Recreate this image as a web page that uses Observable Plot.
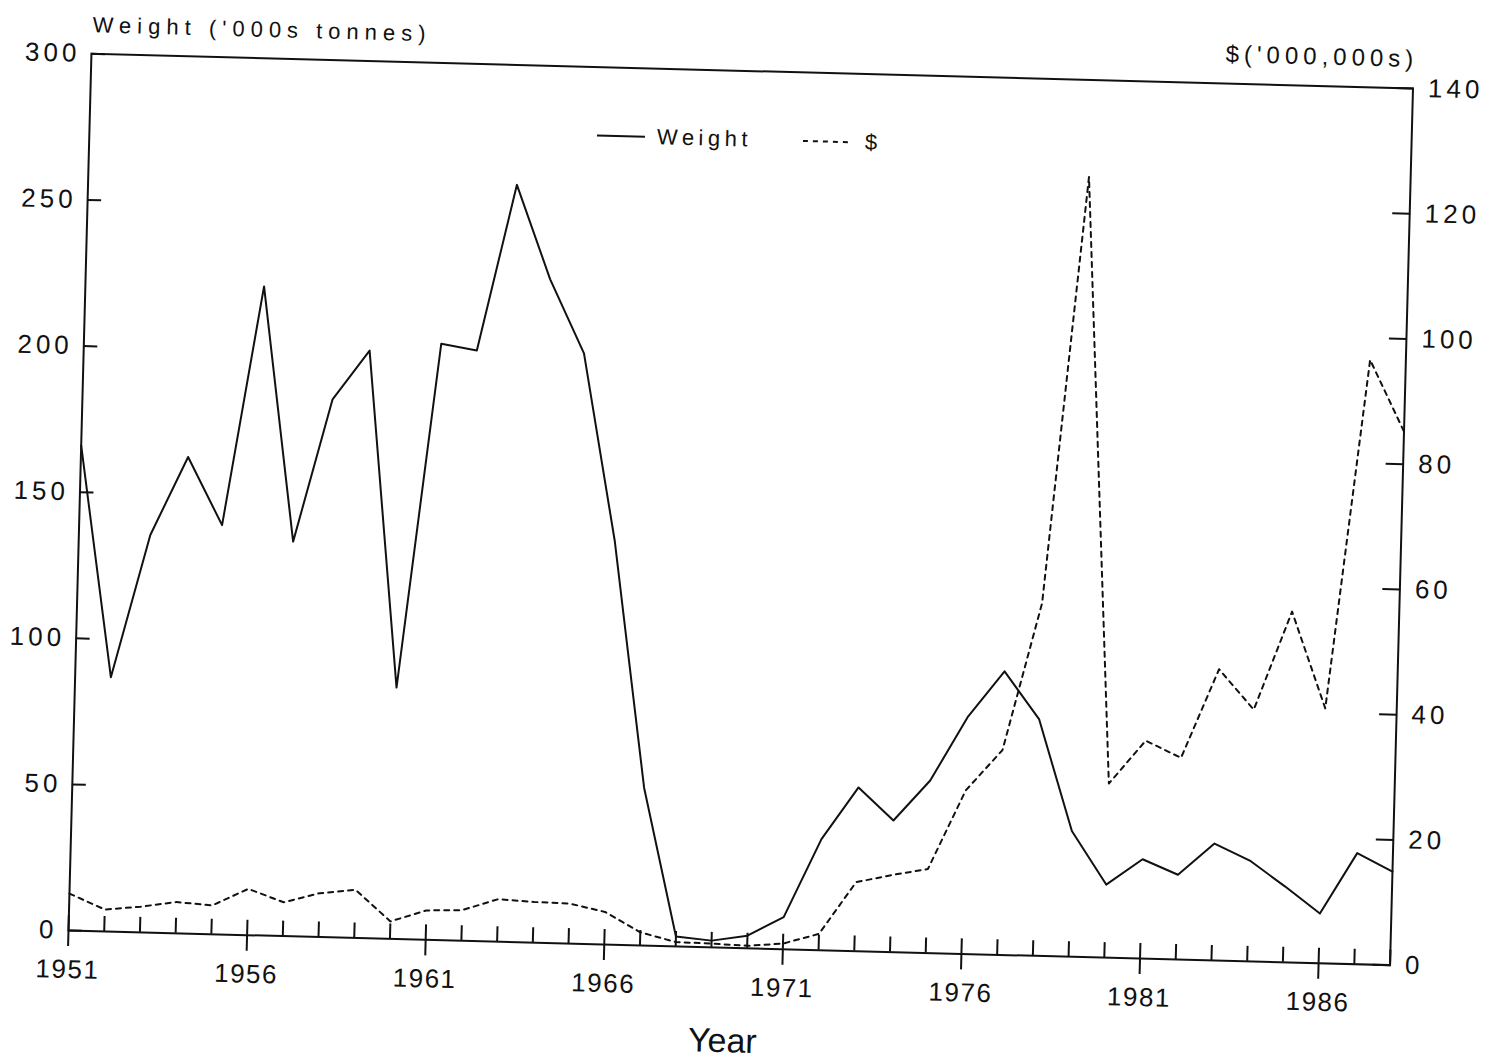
<!DOCTYPE html>
<html>
<head>
<meta charset="utf-8">
<script src="https://cdn.jsdelivr.net/npm/d3@7"></script>
<script src="https://cdn.jsdelivr.net/npm/@observablehq/plot@0.6"></script>
<style>
html, body { margin: 0; padding: 0; background: #fff; overflow: hidden; width: 1488px; height: 1063px; }
#wrap { position: absolute; left: 0; top: 0; width: 1488px; height: 1063px;
  transform: rotate(1.5deg); transform-origin: 68px 930px;
  font-family: "Liberation Sans", Arial, sans-serif; color: #111; }
#chart { position: absolute; left: 0; top: 0; }
.t { position: absolute; white-space: nowrap; line-height: 1; }
#chart svg [aria-label="y-axis tick label"] text { letter-spacing: 4px; }
#chart svg [aria-label="x-axis tick label"] text { letter-spacing: 1.5px; }
</style>
</head>
<body>
<div id="wrap">
  <div id="chart"></div>
  <div class="t" style="left:69px; top:25px; transform:translateY(-50%); font-size:22px; letter-spacing:6px;">Weight ('000s tonnes)</div>
  <div class="t" style="right:93px; top:24px; transform:translateY(-50%); font-size:24px; letter-spacing:5px;">$('000,000s)</div>
  <div class="t" style="left:725px; top:1023px; transform:translate(-50%,-50%); font-size:34px;">Year</div>
  <svg class="t" style="left:576px; top:112px;" width="50" height="20"><line x1="0" y1="10" x2="48" y2="10" stroke="#111" stroke-width="2"/></svg>
  <div class="t" style="left:636px; top:122px; transform:translateY(-50%); font-size:22px; letter-spacing:4.5px;">Weight</div>
  <svg class="t" style="left:782px; top:112px;" width="50" height="20"><line x1="0" y1="10" x2="45" y2="10" stroke="#111" stroke-width="2" stroke-dasharray="5,5"/></svg>
  <div class="t" style="left:844px; top:122px; transform:translateY(-50%); font-size:22px;">$</div>
</div>
<script>
// Data
const years = [1951, 1952, 1953, 1954, 1955, 1956, 1957, 1958, 1959, 1960,
               1961, 1962, 1963, 1964, 1965, 1966, 1967, 1968, 1969, 1970,
               1971, 1972, 1973, 1974, 1975, 1976, 1977, 1978, 1979, 1980,
               1981, 1982, 1983, 1984, 1985, 1986, 1987, 1988];
// Weight ('000s tonnes)
const weight = [166, 87, 136, 163, 140, 222, 135, 184, 201, 86,
                204, 202, 259, 227, 202, 138, 54, 3.4, 2.3, 4.3,
                11, 38, 56, 45, 59, 81, 97, 81, 43, 25,
                34, 29, 40, 34.5, 26, 17, 38, 32];
// $ ('000,000s)
const dollars = [5.9, 3.5, 4.1, 5.0, 4.6, 7.4, 5.4, 7.0, 7.7, 2.8,
                 4.7, 4.9, 6.8, 6.5, 6.4, 5.2, 2.1, 0.7, 0.6, 0.4,
                 0.9, 2.6, 11.0, 12.3, 13.4, 26.1, 32.7, 56.3, 124.5, 27.8,
                 34.8, 32.2, 46.5, 40.2, 56.0, 40.7, 96.5, 85.2];
const weightTicks = [0, 50, 100, 150, 200, 250, 300];
const dollarTicks = [0, 20, 40, 60, 80, 100, 120, 140];
const labelYears = [1951, 1956, 1961, 1966, 1971, 1976, 1981, 1986];

const weightMax = 300, dollarMax = 140;
const toLeft = d => d * weightMax / dollarMax;
const rows = years.map((year, i) => ({year, weight: weight[i], dollars: dollars[i]}));

const chart = Plot.plot({
  width: 1488,
  height: 1063,
  marginLeft: 68,
  marginRight: 98,
  marginTop: 53,
  marginBottom: 133,
  x: {domain: [1951, 1988]},
  y: {domain: [0, weightMax]},
  style: {fontFamily: '"Liberation Sans", Arial, sans-serif', fontSize: "26px", color: "#111", background: "transparent", overflow: "visible"},
  marks: [
    Plot.axisX(years, {anchor: "bottom", tickSize: -15, strokeWidth: 2, tickFormat: () => "", label: null}),
    Plot.axisX(labelYears, {anchor: "bottom", tickSize: 16, tickPadding: 13, strokeWidth: 2, tickFormat: d => String(d), label: null, fontSize: 26}),
    Plot.axisY(weightTicks, {anchor: "left", tickSize: -14, tickPadding: 25, strokeWidth: 2, tickFormat: d => String(d), label: null, fontSize: 26}),
    Plot.axisY(dollarTicks, {anchor: "right", y: toLeft, text: d => String(d), tickSize: -18, tickPadding: 33, strokeWidth: 2, label: null, fontSize: 26}),
    Plot.frame({stroke: "#111", strokeWidth: 2}),
    Plot.line(rows, {x: "year", y: "weight", stroke: "#111", strokeWidth: 2}),
    Plot.line(rows, {x: "year", y: d => toLeft(d.dollars), stroke: "#111", strokeWidth: 2, strokeDasharray: "5,5"})
  ]
});
document.getElementById("chart").appendChild(chart);
</script>
</body>
</html>
